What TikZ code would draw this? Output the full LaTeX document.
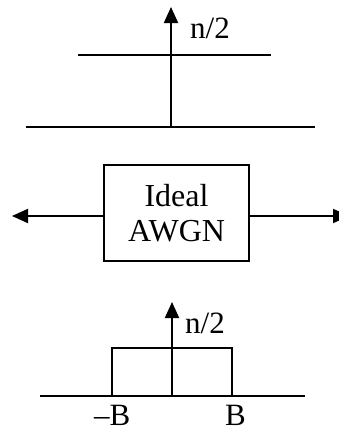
\documentclass[tikz,border=0pt]{standalone}
\usepackage{fontspec}
\setmainfont{Liberation Serif}
\usetikzlibrary{arrows.meta}
\begin{document}
\begin{tikzpicture}[x=1pt,y=-1pt,
  ln/.style={line width=2pt},
  arr/.style={line width=2pt,-{Triangle[length=16pt,width=14pt]}},
  lbl/.style={inner sep=0pt,font=\fontsize{31}{35}\selectfont},
  boxnode/.style={draw,line width=2pt,minimum width=145pt,minimum height=96pt,align=center,inner sep=0pt,font=\fontsize{32}{35}\selectfont}]
\useasboundingbox (0,0) rectangle (339,431);
% top spectrum
\coordinate (t0) at (171,127);
\coordinate (ttip) at (171,7);
\coordinate (tl1) at (78,55);
\coordinate (tl2) at (271,55);
\coordinate (tb1) at (26,127);
\coordinate (tb2) at (315,127);
\draw[ln] (tb1) -- (tb2);
\draw[ln] (tl1) -- (tl2);
\draw[arr] (t0) -- (ttip);
\node[lbl,anchor=base west] (tn) at (190,38) {n/2};
% middle box
\node[boxnode] (box) at (176.5,213) {Ideal\\AWGN};
\coordinate (lt) at (12,216);
\coordinate (rt) at (349,216);
\draw[arr] (box.west |- lt) -- (lt);
\draw[arr] (box.east |- rt) -- (rt);
% bottom spectrum
\coordinate (b0) at (172,396);
\coordinate (btip) at (172,302);
\coordinate (bb1) at (40,396);
\coordinate (bb2) at (305,396);
\draw[ln] (bb1) -- (bb2);
\draw[ln] (112,396) -- (112,348) -- (232,348) -- (232,396);
\draw[arr] (b0) -- (btip);
\node[lbl,anchor=base west] (bn) at (185,333) {n/2};
\node[lbl,anchor=base west] (mb) at (94,425) {–B};
\node[lbl,anchor=base west] (pb) at (225,425) {B};
\end{tikzpicture}
\end{document}
